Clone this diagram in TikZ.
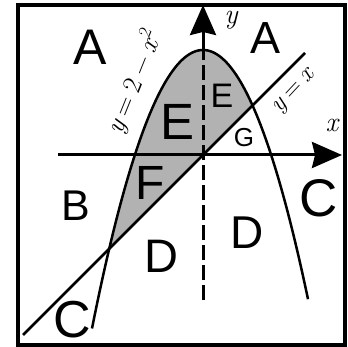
\documentclass[tikz,border=0pt]{standalone}
\usepackage{fontspec}
\setsansfont{Liberation Sans}
\usetikzlibrary{arrows.meta}
\definecolor{regiongray}{RGB}{178,178,178}
\tikzset{
  region/.style={font=\sffamily\fontsize{#1}{#1}\selectfont, inner sep=0pt},
  mathlabel/.style={font=\itshape\fontsize{#1}{#1}\selectfont, inner sep=0pt},
  axisline/.style={line width=3pt},
  curveline/.style={line width=2.5pt},
  tipstyle/.style={-{Stealth[length=30pt,width=26pt,inset=3pt]}},
  dashaxis/.style={line width=3pt, dash pattern=on 15pt off 5pt},
  framebox/.style={line width=3.5pt}
}
\newcommand{\upr}[1]{{\upshape #1}}
\newcommand{\gp}{\hspace{0.22em}}
\begin{document}
\begin{tikzpicture}[x=1pt,y=-1pt]
  \useasboundingbox (0,0) rectangle (348,347);
  % coordinates
  \coordinate (xs) at (58,155);
  \coordinate (xe) at (342,155);
  \coordinate (ys) at (203,300);
  \coordinate (yv) at (203,50);
  \coordinate (ye) at (203,5);
  \coordinate (L1) at (23,335);
  \coordinate (L2) at (305,53);
  % shaded region between parabola and y=x
  \fill[regiongray] plot[domain=109.2:252.5, samples=80] (\x, {50 + 2.26*((\x-203)/10)^2}) -- cycle;
  % axes
  \draw[axisline, tipstyle] (xs) -- (xe);
  \draw[dashaxis] (ys) -- (yv);
  \draw[axisline, tipstyle] (yv) -- (ye);
  % parabola
  \draw[curveline] plot[domain=92:308, samples=120, smooth] (\x, {50 + 2.26*((\x-203)/10)^2});
  % line y = x
  \draw[curveline] (L1) -- (L2);
  % region labels
  \node[region=50] (A1) at (90,47) {A};
  \node[region=45] (A2) at (266,38) {A};
  \node[region=51] (E1) at (178,122) {E};
  \node[region=34] (E2) at (222,96) {E};
  \node[region=26] (G) at (244,138) {G};
  \node[region=48] (F) at (150,183) {F};
  \node[region=43] (B) at (76,206) {B};
  \node[region=53] (C1) at (319,198) {C};
  \node[region=47] (D1) at (161,256) {D};
  \node[region=46] (D2) at (247,233) {D};
  \node[region=52] (C2) at (72,320) {C};
  % axis and curve labels
  \node[mathlabel=28] (xl) at (332,125) {x};
  \node[mathlabel=28] (yl) at (231,20) {y};
  \node[mathlabel=27, rotate=68] (pl) at (134,82) {y\gp\upr{=}\gp\upr{2}\gp\upr{−}\gp x\raisebox{0.42em}{\upr{\fontsize{18}{18}\selectfont 2}}};
  \node[mathlabel=25, rotate=47] (ll) at (295,92) {y\gp\upr{=}\gp x};
  % frame
  \draw[framebox] (18,5) rectangle (345,345);
\end{tikzpicture}
\end{document}
